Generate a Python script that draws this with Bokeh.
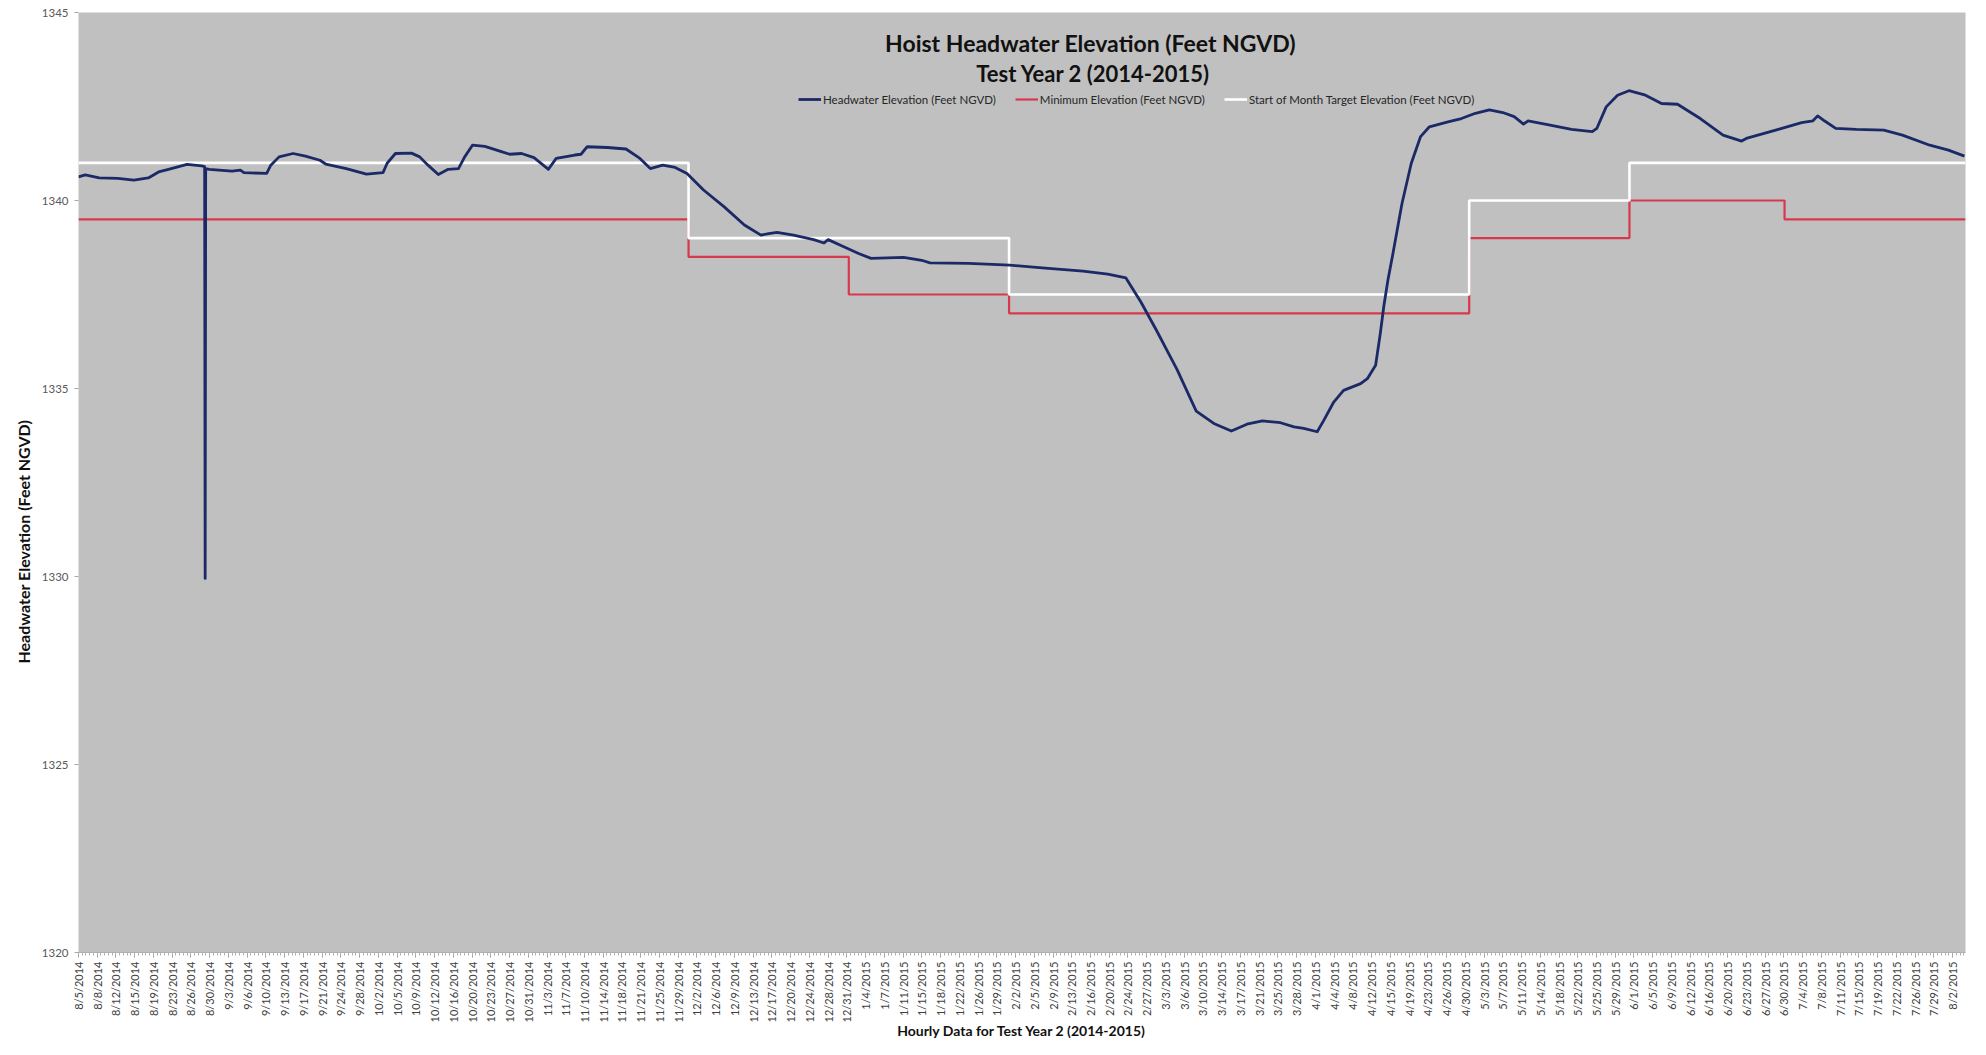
import numpy as np
import pandas as pd
from bokeh.plotting import figure
from bokeh.models import Range1d, FixedTicker, Label, Legend, LegendItem, Title
from bokeh.embed import file_html
from bokeh.resources import INLINE

# ---------------- data ----------------
start_date = pd.Timestamp("2014-08-05")
end_date = pd.Timestamp("2015-08-05")

# Headwater elevation: days since 8/5/2014 and elevation (Feet NGVD)
hw_days = [0.0, 1.3, 4.0, 7.6, 10.7, 13.5, 15.5, 17.4, 21.0, 23.8, 24.4, 24.5, 24.6,
           25.3, 29.7, 31.3, 32.0, 36.4, 37.2, 38.8, 41.5, 43.9, 46.7, 47.8, 51.8,
           55.7, 58.9, 59.7, 61.3, 64.4, 66.0, 67.6, 69.6, 71.5, 73.5, 74.7, 76.2,
           78.6, 81.8, 83.4, 85.7, 88.1, 90.9, 92.4, 96.0, 97.2, 98.4, 102.3, 105.9,
           108.6, 110.6, 113.0, 115.4, 117.7, 120.9, 124.9, 128.8, 132.0, 133.5,
           135.1, 138.3, 142.2, 144.2, 145.0, 147.7, 150.9, 153.3, 159.6, 163.1,
           164.7, 172.2, 180.1, 186.4, 194.3, 199.1, 202.6, 205.5, 208.5, 212.5,
           216.2, 219.6, 223.0, 226.0, 229.0, 232.5, 235.1, 237.0, 239.6, 240.9,
           242.8, 244.7, 248.0, 249.3, 250.9, 251.8, 252.5, 253.3, 254.2, 256.0,
           257.8, 259.6, 261.3, 264.9, 267.5, 270.2, 272.9, 275.5, 277.7, 279.5,
           280.4, 284.4, 288.8, 292.8, 293.7, 295.5, 297.7, 299.9, 303.1, 306.2,
           309.3, 313.7, 318.1, 321.7, 322.6, 328.8, 333.3, 335.5, 336.4, 337.7,
           339.9, 343.9, 349.2, 352.8, 358.1, 361.7, 364.8]
hw_elev = [1340.63, 1340.68, 1340.60, 1340.59, 1340.54, 1340.60, 1340.76, 1340.83,
           1340.96, 1340.92, 1340.90, 1329.95, 1340.85, 1340.83, 1340.78, 1340.81,
           1340.74, 1340.72, 1340.94, 1341.16, 1341.25, 1341.18, 1341.07, 1340.97,
           1340.85, 1340.70, 1340.74, 1340.99, 1341.25, 1341.26, 1341.16, 1340.94,
           1340.69, 1340.83, 1340.85, 1341.16, 1341.47, 1341.44, 1341.30, 1341.23,
           1341.25, 1341.14, 1340.83, 1341.12, 1341.21, 1341.23, 1341.43, 1341.41,
           1341.37, 1341.12, 1340.85, 1340.94, 1340.88, 1340.72, 1340.28, 1339.83,
           1339.35, 1339.08, 1339.12, 1339.15, 1339.08, 1338.96, 1338.87, 1338.96,
           1338.79, 1338.59, 1338.46, 1338.49, 1338.41, 1338.34, 1338.33, 1338.28,
           1338.21, 1338.12, 1338.04, 1337.94, 1337.30, 1336.55, 1335.50, 1334.40,
           1334.07, 1333.87, 1334.05, 1334.14, 1334.09, 1333.98, 1333.94, 1333.85,
           1334.16, 1334.64, 1334.95, 1335.13, 1335.26, 1335.62, 1336.46, 1337.20,
           1337.90, 1338.55, 1339.92, 1340.99, 1341.70, 1341.96, 1342.09, 1342.18,
           1342.32, 1342.41, 1342.34, 1342.23, 1342.03, 1342.12, 1342.01, 1341.89,
           1341.83, 1341.92, 1342.49, 1342.80, 1342.92, 1342.80, 1342.58, 1342.56,
           1342.18, 1341.74, 1341.58, 1341.65, 1341.89, 1342.07, 1342.12, 1342.25,
           1342.12, 1341.92, 1341.89, 1341.87, 1341.74, 1341.47, 1341.34, 1341.18]

# Monthly step series
month_starts = ["2014-08-05", "2014-09-01", "2014-10-01", "2014-11-01", "2014-12-01",
                "2015-01-01", "2015-02-01", "2015-03-01", "2015-04-01", "2015-05-01",
                "2015-06-01", "2015-07-01", "2015-08-01"]
min_elev = [1339.5, 1339.5, 1339.5, 1339.5, 1338.5, 1337.5, 1337.0, 1337.0, 1337.0,
            1339.0, 1340.0, 1339.5, 1339.5]
target_elev = [1341.0, 1341.0, 1341.0, 1341.0, 1339.0, 1339.0, 1337.5, 1337.5, 1337.5,
               1340.0, 1341.0, 1341.0, 1341.0]

y_ticks = [1320, 1325, 1330, 1335, 1340, 1345]

x_tick_labels = [
    "8/5/2014", "8/8/2014", "8/12/2014", "8/15/2014", "8/19/2014", "8/23/2014", "8/26/2014",
    "8/30/2014", "9/3/2014", "9/6/2014", "9/10/2014", "9/13/2014", "9/17/2014", "9/21/2014",
    "9/24/2014", "9/28/2014", "10/2/2014", "10/5/2014", "10/9/2014", "10/12/2014",
    "10/16/2014", "10/20/2014", "10/23/2014", "10/27/2014", "10/31/2014", "11/3/2014",
    "11/7/2014", "11/10/2014", "11/14/2014", "11/18/2014", "11/21/2014", "11/25/2014",
    "11/29/2014", "12/2/2014", "12/6/2014", "12/9/2014", "12/13/2014", "12/17/2014",
    "12/20/2014", "12/24/2014", "12/28/2014", "12/31/2014", "1/4/2015", "1/7/2015",
    "1/11/2015", "1/15/2015", "1/18/2015", "1/22/2015", "1/26/2015", "1/29/2015",
    "2/2/2015", "2/5/2015", "2/9/2015", "2/13/2015", "2/16/2015", "2/20/2015", "2/24/2015",
    "2/27/2015", "3/3/2015", "3/6/2015", "3/10/2015", "3/14/2015", "3/17/2015",
    "3/21/2015", "3/25/2015", "3/28/2015", "4/1/2015", "4/4/2015", "4/8/2015",
    "4/12/2015", "4/15/2015", "4/19/2015", "4/23/2015", "4/26/2015", "4/30/2015",
    "5/3/2015", "5/7/2015", "5/11/2015", "5/14/2015", "5/18/2015", "5/22/2015",
    "5/25/2015", "5/29/2015", "6/1/2015", "6/5/2015", "6/9/2015", "6/12/2015",
    "6/16/2015", "6/20/2015", "6/23/2015", "6/27/2015", "6/30/2015", "7/4/2015",
    "7/8/2015", "7/11/2015", "7/15/2015", "7/19/2015", "7/22/2015", "7/26/2015",
    "7/29/2015", "8/2/2015"]
tick_interval_hours = 87   # category-axis label interval (hourly points)
minor_per_major = 5

# ---------------- derived positions ----------------
total_days = (end_date - start_date).days
step_x = [(pd.Timestamp(s) - start_date).days for s in month_starts] + [total_days]
min_y = min_elev + [min_elev[-1]]
tgt_y = target_elev + [target_elev[-1]]

tick_pos = [k * tick_interval_hours / 24.0 for k in range(len(x_tick_labels))]
minor_pos = [k * tick_interval_hours / 24.0 / minor_per_major
             for k in range(len(x_tick_labels) * minor_per_major)
             if k * tick_interval_hours / 24.0 / minor_per_major <= total_days]

NAVY = "#1b2a66"
RED = "#d8384c"
WHITE = "#ffffff"
FONT = "Lato"

p = figure(frame_width=1887, frame_height=940,
           x_range=Range1d(0, total_days), y_range=Range1d(y_ticks[0], y_ticks[-1]),
           output_backend="svg", toolbar_location=None,
           min_border_left=78, min_border_right=20, min_border_top=12, min_border_bottom=102,
           background_fill_color="#c0c0c0", border_fill_color="white",
           outline_line_color=None)
p.xgrid.visible = False
p.ygrid.visible = False

r_min = p.step(step_x, min_y, mode="after", line_color=RED, line_width=2.2)
r_tgt = p.step(step_x, tgt_y, mode="after", line_color=WHITE, line_width=2.6)
r_hw = p.line(hw_days, hw_elev, line_color=NAVY, line_width=2.8, line_join="round")

# y axis
p.yaxis.ticker = FixedTicker(ticks=y_ticks)
p.yaxis.major_label_text_font = FONT
p.yaxis.major_label_text_font_size = "11.5px"
p.yaxis.major_label_text_color = "#595959"
p.yaxis.axis_line_color = None
p.yaxis.major_tick_out = 4
p.yaxis.major_tick_in = 0
p.yaxis.major_tick_line_color = "#a6a6a6"
p.yaxis.minor_tick_line_color = None
p.yaxis.major_label_standoff = 6

# y axis title, positioned along the axis like the reference
p.add_layout(Title(text="Headwater Elevation (Feet NGVD)", align="left", offset=289,
                   text_font=FONT, text_font_style="bold", text_font_size="16px",
                   text_color="#111111", standoff=12), "left")

# x axis
p.xaxis.ticker = FixedTicker(ticks=tick_pos, minor_ticks=minor_pos)
p.xaxis.major_label_overrides = dict(zip(tick_pos, x_tick_labels))
p.xaxis.major_label_orientation = np.pi / 2
p.xaxis.major_label_text_font = FONT
p.xaxis.major_label_text_font_size = "11px"
p.xaxis.major_label_text_color = "#404040"
p.xaxis.axis_line_color = "#b0b0b0"
p.xaxis.major_tick_out = 5
p.xaxis.major_tick_in = 0
p.xaxis.minor_tick_out = 3
p.xaxis.minor_tick_in = 0
p.xaxis.major_tick_line_color = "#a0a0a0"
p.xaxis.minor_tick_line_color = "#b0b0b0"
p.xaxis.major_label_standoff = 4
p.xaxis.axis_label = "Hourly Data for Test Year 2 (2014-2015)"
p.xaxis.axis_label_text_font = FONT
p.xaxis.axis_label_text_font_style = "bold"
p.xaxis.axis_label_text_font_size = "14px"
p.xaxis.axis_label_text_color = "#111111"
p.xaxis.axis_label_standoff = -3

# chart title inside the plot area
p.add_layout(Label(x=196.3, y=1344.19, text="Hoist Headwater Elevation  (Feet NGVD)",
                   text_align="center", text_baseline="middle", text_font=FONT,
                   text_font_style="bold", text_font_size="23px", text_color="#111111"))
p.add_layout(Label(x=196.3, y=1343.38, text="Test Year 2 (2014-2015)",
                   text_align="center", text_baseline="middle", text_font=FONT,
                   text_font_style="bold", text_font_size="22px", text_color="#111111"))

legend = Legend(items=[
    LegendItem(label="Headwater Elevation (Feet NGVD)", renderers=[r_hw]),
    LegendItem(label="Minimum Elevation (Feet NGVD)", renderers=[r_min]),
    LegendItem(label="Start of Month Target Elevation (Feet NGVD)", renderers=[r_tgt]),
], location=(720, 846), orientation="horizontal", background_fill_alpha=0,
    border_line_color=None, label_text_font=FONT, label_text_font_size="11.5px",
    label_text_color="#262626", glyph_width=23, glyph_height=14, label_height=14,
    label_standoff=2, spacing=19, padding=0, margin=0)
p.add_layout(legend)

open("out.html", "w").write(file_html(p, INLINE))
